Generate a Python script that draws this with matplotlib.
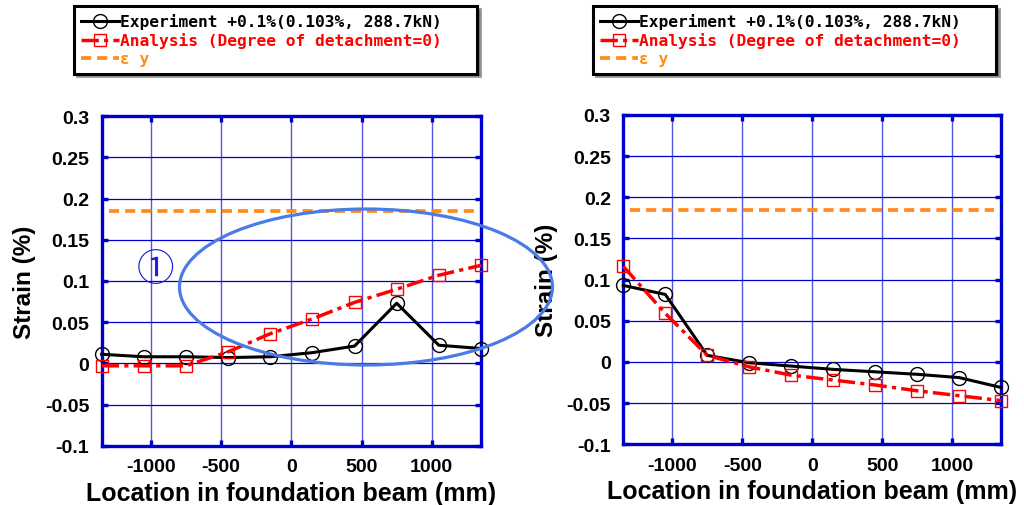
#strain distribution along foundation beam, two panels

import matplotlib.pyplot as plt
from matplotlib.patches import Ellipse
from matplotlib.ticker import FormatStrFormatter

plt.rcParams['axes.unicode_minus'] = False

# data
loc = [-1350, -1050, -750, -450, -150, 150, 450, 750, 1050, 1350]

exp_left = [0.011, 0.008, 0.008, 0.007, 0.008, 0.013, 0.021, 0.073, 0.022, 0.018]
ana_left = [-0.003, -0.003, -0.003, 0.014, 0.036, 0.054, 0.074, 0.090, 0.107, 0.119]

exp_right = [0.093, 0.082, 0.008, -0.001, -0.005, -0.009, -0.012, -0.015, -0.019, -0.031]
ana_right = [0.116, 0.059, 0.008, -0.006, -0.016, -0.022, -0.028, -0.035, -0.041, -0.047]

eps_y = 0.185
eps_x = [-1300, 1300]

yticks = [-0.1, -0.05, 0, 0.05, 0.1, 0.15, 0.2, 0.25, 0.3]
xticks = [-1000, -500, 0, 500, 1000]

lab_exp = 'Experiment +0.1%(0.103%, 288.7kN)'
lab_ana = 'Analysis (Degree of detachment=0)'
lab_eps = 'ε y'

BLUE = '#0000cc'

fig = plt.figure(figsize=(10.24, 5.06), dpi=100)
ax1 = fig.add_axes([0.0993, 0.1172, 0.3704, 0.651])
ax2 = fig.add_axes([0.6087, 0.1200, 0.3689, 0.6508])

panels = [(ax1, exp_left, ana_left, 0.0723), (ax2, exp_right, ana_right, 0.579)]

for ax, e, a, lx in panels:
    ax.plot(eps_x, [eps_y, eps_y], color='#ff8c1a', lw=2.7, ls=(0, (2.7, 1.6)), label=lab_eps, zorder=3)
    ax.plot(loc, e, color='black', lw=2.2, marker='o', ms=10, mfc='none', mec='black', mew=1.0,
            label=lab_exp, zorder=4, clip_on=False)
    ax.plot(loc, a, color='red', lw=2.5, ls=(0, (5, 1.5, 1.2, 1.5)), marker='s', ms=8,
            mfc='none', mec='red', mew=1.0, label=lab_ana, zorder=4, clip_on=False)
    ax.set_xlim(-1350, 1350)
    ax.set_ylim(-0.1, 0.3)
    ax.set_xticks(xticks)
    ax.set_yticks(yticks)
    ax.yaxis.set_major_formatter(FormatStrFormatter('%g'))
    ax.xaxis.grid(True, color='#5555dd', lw=1.0)
    ax.yaxis.grid(True, color=BLUE, lw=0.9)
    ax.set_axisbelow(True)
    for s in ax.spines.values():
        s.set_color(BLUE)
        s.set_linewidth(2.4)
    ax.tick_params(direction='in', length=4, width=2.4, color=BLUE, top=True, right=True,
                   labelsize=14, pad=9)
    for t in ax.get_xticklabels() + ax.get_yticklabels():
        t.set_fontweight('bold')
        t.set_family('Liberation Sans')
    ax.set_xlabel('Location in foundation beam (mm)', fontsize=18, fontweight='bold',
                  family='Liberation Sans', labelpad=4)
    ax.set_ylabel('Strain (%)', fontsize=17.5, fontweight='bold', family='Liberation Sans', labelpad=6)

    h, l = ax.get_legend_handles_labels()
    order = [1, 2, 0]
    leg = ax.legend([h[i] for i in order], [l[i] for i in order], loc='upper left',
                    bbox_to_anchor=(lx, 0.986 - 0.134, 0.3936, 0.134), bbox_transform=fig.transFigure,
                    mode='expand', frameon=True, fancybox=False, shadow=True, edgecolor='black',
                    prop={'family': 'DejaVu Sans Mono', 'size': 11.7, 'weight': 'bold'},
                    labelcolor='linecolor', handlelength=2.3, handletextpad=0.1, labelspacing=0.18,
                    borderpad=0.45, borderaxespad=0, framealpha=1)
    leg.get_frame().set_linewidth(2.2)

# highlighted region on left panel
ell = Ellipse((366 / 1024, 1 - 288 / 506), 373 / 1024, 156 / 506, transform=fig.transFigure,
              fill=False, ec='#4a7be6', lw=2.3, zorder=10)
fig.add_artist(ell)
fig.text(155 / 1024, 1 - 270 / 506, '①', color='#1e1ee6', fontsize=27, ha='center', va='center',
         family=['Noto Sans CJK JP', 'DejaVu Sans'])

plt.savefig('out.png', dpi=100)
plt.close()
